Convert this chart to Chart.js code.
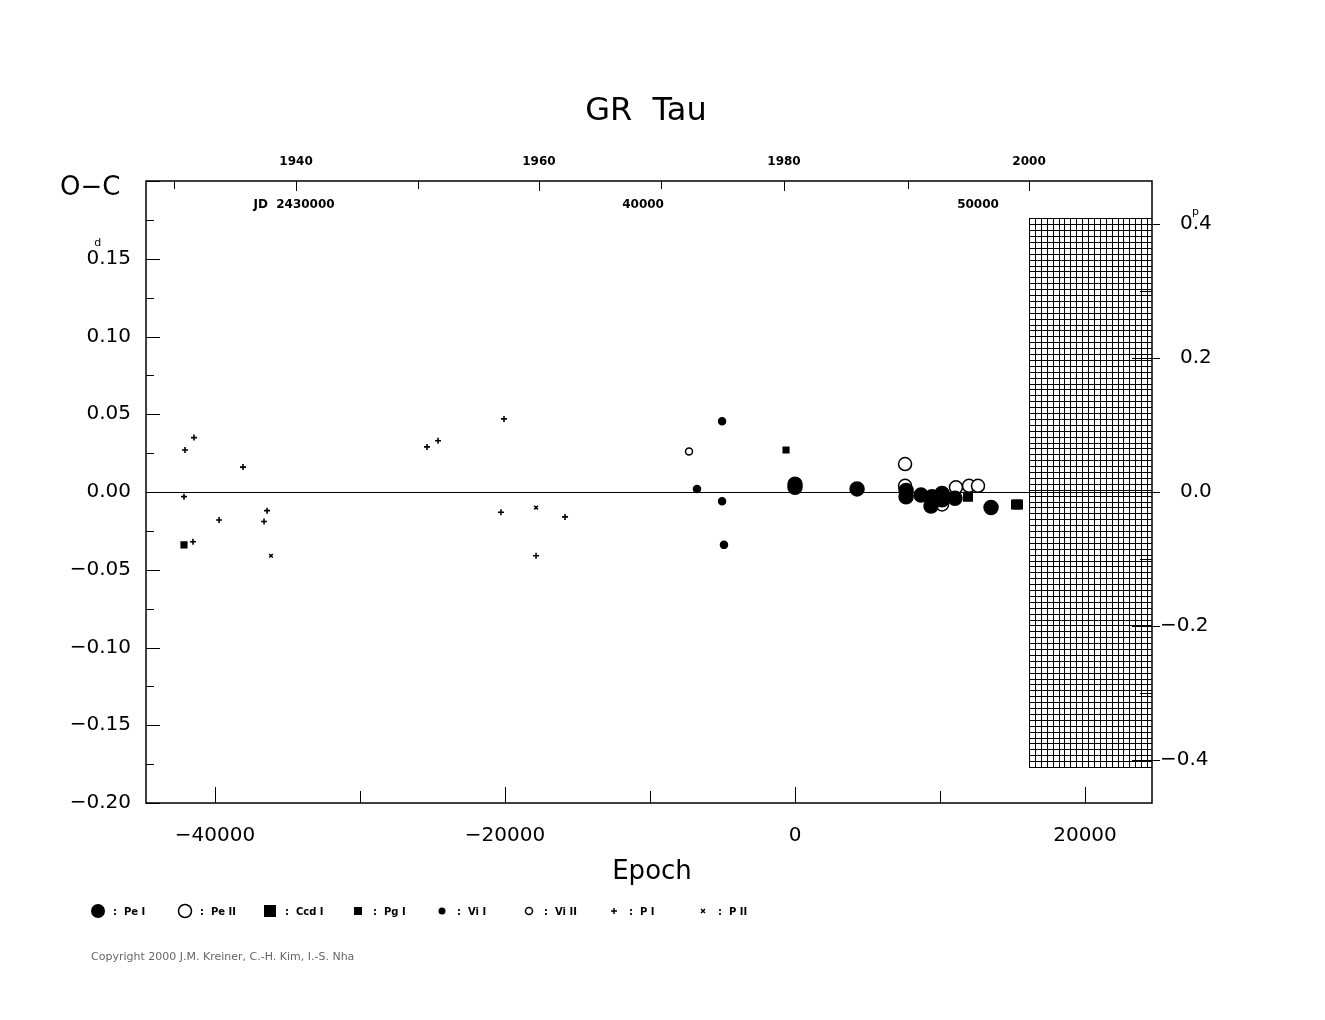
<!DOCTYPE html>
<html><head><meta charset="utf-8">
<script src="https://cdn.jsdelivr.net/npm/chart.js@4"></script>
<style>body{margin:0;background:#fff}#w{width:1325px;height:1020px}</style></head>
<body><div id="w"><canvas id="c"></canvas></div>
<script>
const peI=[[0,0.003],[0,0.005],[4280,0.002],[7660,0.001],[7660,-0.003],[8690,-0.002],[9450,-0.003],[9380,-0.009],[10140,-0.001],[10140,-0.005],[11030,-0.004],[13520,-0.010]];
const peII=[[7590,0.018],[7590,0.004],[10140,-0.008],[11100,0.003],[12000,0.004],[12620,0.004]];
const ccdI=[[11930,-0.003],[15240,-0.008],[15380,-0.008]];
const pgI=[[-42140,-0.034],[-620,0.027]];
const viI=[[-5030,0.0455],[-6760,0.002],[-5030,-0.006],[-4900,-0.034]];
const viII=[[-7310,0.026]];
const pI=[[-42070,0.027],[-41450,0.035],[-42140,-0.003],[-41520,-0.032],[-39720,-0.018],[-38070,0.016],[-36620,-0.019],[-36410,-0.012],[-25380,0.029],[-24620,0.033],[-20070,0.047],[-20280,-0.013],[-17860,-0.041],[-15860,-0.016]];
const pII=[[-36140,-0.041],[-17860,-0.010]];
const xTicks=[-40000,-20000,0,20000];
const yLabels=[0.15,0.10,0.05,0.00,-0.05,-0.10,-0.15,-0.20];
const rLabels=[0.4,0.2,0.0,-0.2,-0.4];
const years=[1930,1940,1950,1960,1970,1980,1990,2000];
const yearEpochs=[-42830,-34410,-26000,-17660,-9240,-760,7790,16140];
const jdLabels=[["JD  2430000",-34550],["40000",-10480],["50000",12620]];
const hatch={x0:16140,x1:24620,y0:0.176,y1:-0.177};
const XMIN=-44760,XMAX=24620,YMIN=-0.2,YMAX=0.2,RSCALE=2.321;
const pts=a=>a.map(p=>({x:p[0],y:p[1]}));
const ds=(l,d,style,r,fill)=>({label:l,data:pts(d),pointStyle:style,pointRadius:r,pointBorderColor:'#000',pointBackgroundColor:fill?'#000':'#fff',pointBorderWidth:style==='cross'||style==='crossRot'?1.6:1.5,showLine:false});
const deco={id:'deco',afterDraw(ch){
 const c=ch.ctx,a=ch.chartArea,xs=ch.scales.x,ys=ch.scales.y;
 c.save();c.fillStyle='#000';c.strokeStyle='#000';
 // hatch
 const hx0=xs.getPixelForValue(hatch.x0),hx1=a.right,hy0=ys.getPixelForValue(hatch.y0),hy1=ys.getPixelForValue(hatch.y1);
 c.lineWidth=1;c.beginPath();
 for(let x=hx0;x<=hx1;x+=5.9){c.moveTo(Math.round(x)+.5,hy0);c.lineTo(Math.round(x)+.5,hy1);}
 for(let y=hy0;y<=hy1;y+=5.9){c.moveTo(hx0,Math.round(y)+.5);c.lineTo(hx1,Math.round(y)+.5);}
 c.stroke();
 // zero line
 const z=ys.getPixelForValue(0);c.beginPath();c.moveTo(a.left,z+.5);c.lineTo(a.right,z+.5);c.stroke();
 // frame
 c.lineWidth=1.5;c.strokeRect(a.left,a.top,a.right-a.left,a.bottom-a.top);
 c.lineWidth=1;c.beginPath();
 for(let v=-0.2;v<=0.2001;v+=0.025){const y=Math.round(ys.getPixelForValue(v))+.5;const L=Math.abs(Math.round(v/0.025))%2?8:14;c.moveTo(a.left,y);c.lineTo(a.left+L,y);}
 for(let v=-0.4;v<=0.4001;v+=0.1){const y=Math.round(ys.getPixelForValue(v/RSCALE))+.5;const L=Math.abs(Math.round(v/0.1))%2?12:20;c.moveTo(a.right-L,y);c.lineTo(a.right+ (L>12?8:0),y);}
 for(let v=-40000;v<=20000;v+=10000){const x=Math.round(xs.getPixelForValue(v))+.5;const L=(v/10000)%2?12:16;c.moveTo(x,a.bottom);c.lineTo(x,a.bottom-L);}
 yearEpochs.forEach((e,i)=>{const x=Math.round(xs.getPixelForValue(e))+.5;c.moveTo(x,a.top);c.lineTo(x,a.top+(i%2?10:8));});
 c.stroke();
 c.font='20px "DejaVu Sans"';c.textBaseline='middle';
 yLabels.forEach(v=>{const y=ys.getPixelForValue(v);let s=v.toFixed(2).replace('-','\u2212');c.textAlign='right';
  if(v===0.15){c.fillText('.15',131,y);const w=c.measureText('.15').width;c.fillText('0',131-w,y);c.font='11px "DejaVu Sans"';c.fillText('d',131-w+2,y-16);c.font='20px "DejaVu Sans"';}
  else c.fillText(s,131,y);});
 c.textAlign='left';
 rLabels.forEach(v=>{const y=ys.getPixelForValue(v/RSCALE);let s=v.toFixed(1).replace('-','\u2212');
  if(v===0.4){c.fillText('0.4',1180,y);c.font='11px "DejaVu Sans"';c.fillText('p',1192,y-12);c.font='20px "DejaVu Sans"';}
  else c.fillText(s,v<0?1160:1180,y);});
 c.textAlign='center';
 xTicks.forEach(v=>c.fillText(String(v).replace('-','\u2212'),xs.getPixelForValue(v),836));
 c.font='26px "DejaVu Sans"';c.fillText('Epoch',652,872);
 c.font='32px "DejaVu Sans"';c.fillText('GR  Tau',646,112);
 c.font='26px "DejaVu Sans"';c.textAlign='left';c.fillText('O\u2212C',60,188);
 c.font='bold 12px "DejaVu Sans"';c.textAlign='center';
 years.forEach((yv,i)=>{if(i%2)c.fillText(String(yv),xs.getPixelForValue(yearEpochs[i]),162);});
 jdLabels.forEach(j=>c.fillText(j[0],xs.getPixelForValue(j[1]),205));
 // legend
 const leg=[['Pe I','circle',7,1],['Pe II','circle',6.5,0],['Ccd I','rect',6,1],['Pg I','rect',4,1],['Vi I','circle',3.5,1],['Vi II','circle',3.5,0],['P I','cross',3,1],['P II','crossRot',2.5,1]];
 const lx=[98,185,270,358,442,529,614,703];
 c.font='bold 10px "DejaVu Sans"';c.textAlign='left';
 leg.forEach((l,i)=>{const x=lx[i],y=911;c.lineWidth=1.5;c.fillStyle='#000';
  if(l[1]==='circle'){c.beginPath();c.arc(x,y,l[2],0,7);if(l[3])c.fill();else c.stroke();}
  else if(l[1]==='rect'){c.fillRect(x-l[2],y-l[2],2*l[2],2*l[2]);}
  else if(l[1]==='cross'){c.beginPath();c.moveTo(x-3,y);c.lineTo(x+3,y);c.moveTo(x,y-3);c.lineTo(x,y+3);c.stroke();}
  else {c.beginPath();c.moveTo(x-2,y-2);c.lineTo(x+2,y+2);c.moveTo(x+2,y-2);c.lineTo(x-2,y+2);c.stroke();}
  c.fillText(':  '+l[0],x+15,y+1);});
 c.font='11px "DejaVu Sans"';c.fillStyle='#666';c.fillText('Copyright 2000 J.M. Kreiner, C.-H. Kim, I.-S. Nha',91,957);
 c.restore();}};
new Chart(document.getElementById('c'),{type:'scatter',
 data:{datasets:[ds('Pe I',peI,'circle',7,1),ds('Pe II',peII,'circle',6.5,0),ds('Ccd I',ccdI,'rect',6,1),ds('Pg I',pgI,'rect',4,1),ds('Vi I',viI,'circle',3.5,1),ds('Vi II',viII,'circle',3.5,0),ds('P I',pI,'cross',3,1),ds('P II',pII,'crossRot',2.5,1)]},
 options:{responsive:true,maintainAspectRatio:false,animation:false,devicePixelRatio:1,
  layout:{padding:{left:146,right:173,top:181,bottom:217}},
  plugins:{legend:{display:false},tooltip:{enabled:false}},
  scales:{x:{type:'linear',min:XMIN,max:XMAX,display:false},y:{min:YMIN,max:YMAX,display:false}}},
 plugins:[deco]});
</script></body></html>
